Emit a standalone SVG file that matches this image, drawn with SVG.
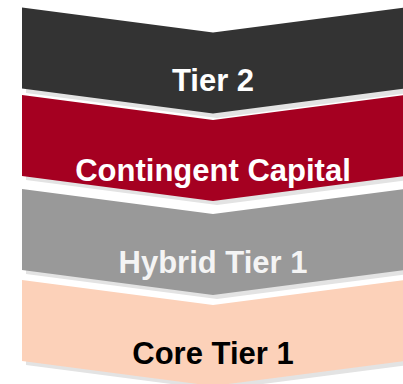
<svg xmlns="http://www.w3.org/2000/svg" width="403" height="384" viewBox="0 0 403 384">
<style>
.lbl{font-family:"Liberation Sans",Arial,sans-serif;font-weight:bold;font-size:31px;text-anchor:middle}
.sh{fill:#e3e3e3}
</style>
<defs>
<path id="chev" d="M22,0 L213,25 L404,0 L404,81 L213,106 L22,81 Z"/>
</defs>
<rect width="403" height="384" fill="#ffffff"/>
<g id="connectors"/>
<g id="tier2">
<use href="#chev" class="sh" transform="translate(4,12)"/>
<use href="#chev" fill="#333333" transform="translate(0,7.5)"/>
<text class="lbl" x="213" y="91" fill="#ffffff">Tier 2</text>
</g>
<g id="contingent">
<use href="#chev" class="sh" transform="translate(4,99)"/>
<use href="#chev" fill="#A50021" transform="translate(0,95)"/>
<text class="lbl" x="213" y="181" fill="#ffffff">Contingent Capital</text>
</g>
<g id="hybrid">
<use href="#chev" class="sh" transform="translate(4,193)"/>
<use href="#chev" fill="#999999" transform="translate(0,189)"/>
<text class="lbl" x="213" y="273" fill="#f4f4f4">Hybrid Tier 1</text>
</g>
<g id="core">
<use href="#chev" class="sh" transform="translate(4,284)"/>
<use href="#chev" fill="#FCD1B9" transform="translate(0,280)"/>
<text class="lbl" x="213" y="364" fill="#000000">Core Tier 1</text>
</g>
</svg>
